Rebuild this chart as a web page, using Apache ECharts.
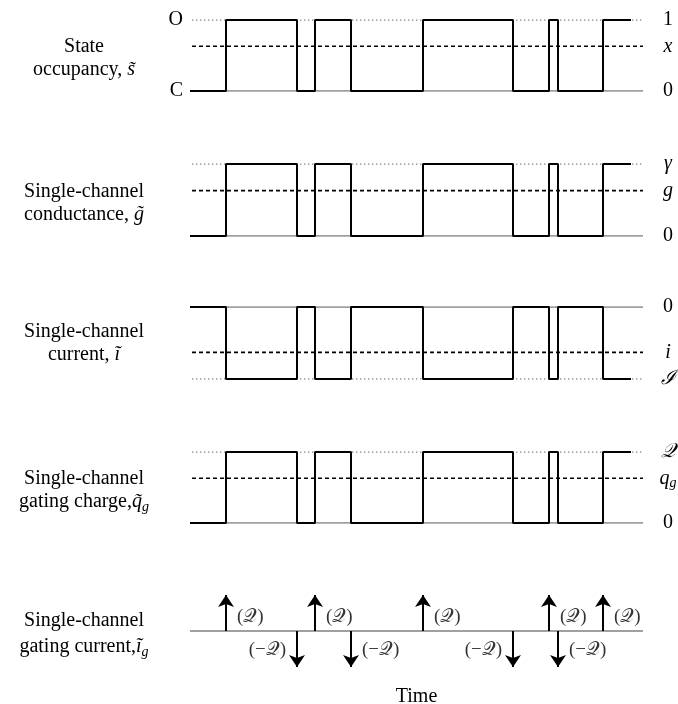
<!DOCTYPE html>
<html><head><meta charset="utf-8">
<script src="https://cdn.jsdelivr.net/npm/echarts@6/dist/echarts.min.js"></script>
<style>html,body{margin:0;padding:0;background:#fff}#c{width:678px;height:704px}</style>
</head><body><div id="c"></div>
<script>
// ---------------- data (time in arbitrary units) ----------------
const transitionTimes = [36, 107, 125, 161, 233, 323, 359, 368, 413];
const statesAfter     = [1, 0, 1, 0, 1, 0, 1, 0, 1];   // 1 = open (O), 0 = closed (C)
const initialState = 0;
const traceStartTime = 0;
const traceEndTime = 441;
const timeMax = 453;
const refStartTime = 2;
const meanLevel = 0.63;          // open probability x (fraction of unitary level)

const panelNames = [
  'State\noccupancy, {i|s̃}',
  'Single-channel\nconductance, {i|g̃}',
  'Single-channel\ncurrent, {i|ĩ}',
  'Single-channel\ngating charge,{i|q̃}{s|g}',
  'Single-channel\ngating current,{i|ĩ}{s|g}'
];
// per panel: sign of trace, tick labels [unitary level, mean level, zero level]
const panelSigns = [1, 1, -1, 1];
const unitaryLabels = ['1', '{i|γ}', '{i|ℐ}', '{i|𝒬}'];
const meanLabels = ['{i|x}', '{i|g}', '{i|i}', '{i|q}{s|g}'];
const zeroLabel = '0';
const stateLetters = ['C', 'O'];
const upChargeLabel = '(𝒬)';
const downChargeLabel = '(−𝒬)';
const xAxisName = 'Time';

// ---------------- chart ----------------
const FONT = 'Liberation Serif';
const FS = 20;
const rich = {
  i: {fontFamily: FONT, fontStyle: 'italic', fontSize: FS, color: '#000'},
  s: {fontFamily: FONT, fontStyle: 'italic', fontSize: 14, color: '#000', padding: [10, 0, 0, 0]}
};
const gridBoxes = [
  {top: 20, height: 71}, {top: 164, height: 72}, {top: 307, height: 72},
  {top: 452, height: 71}, {top: 595, height: 72}
];
const grid = gridBoxes.map(b => ({left: 190, width: 453, top: b.top, height: b.height,
  containLabel: false, outerBoundsMode: 'none'}));

const stepData = [[traceStartTime, initialState]];
transitionTimes.forEach((t, j) => stepData.push([t, statesAfter[j]]));
stepData.push([traceEndTime, statesAfter[statesAfter.length - 1]]);

const xAxis = grid.map((g, k) => ({
  gridIndex: k, type: 'value', min: 0, max: timeMax,
  show: k === 4,
  axisLine: {show: false}, axisTick: {show: false}, axisLabel: {show: false}, splitLine: {show: false},
  name: k === 4 ? xAxisName : '', nameLocation: 'middle', nameGap: 20,
  nameTextStyle: {fontFamily: FONT, fontSize: FS, color: '#000'}
}));

const yAxis = [];
const series = [];
const namePads = [[6, 0, 0, 0], [6, 0, 0, 0], [0, 0, 0, 0], [6, 0, 0, 0], [6, 0, 0, 0]];
const nameStyle = k => ({fontFamily: FONT, fontSize: FS, color: '#000', lineHeight: k === 4 ? 26 : 23,
  align: 'center', verticalAlign: 'middle', padding: namePads[k], rich});

for (let k = 0; k < 4; k++) {
  const sg = panelSigns[k];
  const mn = sg > 0 ? 0 : -1, mx = sg > 0 ? 1 : 0;
  yAxis.push({
    gridIndex: k, type: 'value', min: mn, max: mx, position: 'left',
    axisLine: {show: false}, axisTick: {show: false}, splitLine: {show: false},
    axisLabel: k === 0 ? {show: true, customValues: [0, 1], formatter: v => stateLetters[Math.round(v)],
      fontFamily: FONT, fontSize: FS, color: '#000', margin: 7} : {show: false},
    name: panelNames[k], nameLocation: 'middle', nameRotate: 0, nameGap: 106, nameTextStyle: nameStyle(k)
  });
  const levels = [0, sg * meanLevel, sg];
  const labs = [zeroLabel, meanLabels[k], unitaryLabels[k]];
  yAxis.push({
    gridIndex: k, type: 'value', min: mn, max: mx, position: 'right',
    axisLine: {show: false}, axisTick: {show: false}, splitLine: {show: false},
    axisLabel: {show: true, customValues: levels,
      formatter: v => labs[levels.findIndex(l => Math.abs(l - v) < 1e-6)],
      fontFamily: FONT, fontSize: FS, color: '#000', margin: 25, align: 'center', rich}
  });
  const yi = 2 * k;
  const common = {type: 'line', xAxisIndex: k, yAxisIndex: yi, showSymbol: false, silent: true, animation: false};
  series.push(Object.assign({}, common, {z: 1, data: [[0, 0], [timeMax, 0]],
    lineStyle: {color: '#808080', width: 1.6}}));
  series.push(Object.assign({}, common, {z: 1, data: [[refStartTime, sg], [timeMax, sg]],
    lineStyle: {color: '#8c8c8c', width: 1.4, type: [1.4, 2.6]}}));
  series.push(Object.assign({}, common, {z: 2, data: [[refStartTime, sg * meanLevel], [timeMax, sg * meanLevel]],
    lineStyle: {color: '#000', width: 1.6, type: [4, 3]}}));
  series.push(Object.assign({}, common, {z: 3, step: 'end', data: stepData.map(p => [p[0], p[1] * sg]),
    lineStyle: {color: '#000', width: 2}}));
}

// panel 5: gating current impulses
yAxis.push({
  gridIndex: 4, type: 'value', min: -1, max: 1, position: 'left',
  axisLine: {show: false}, axisTick: {show: false}, splitLine: {show: false}, axisLabel: {show: false},
  name: panelNames[4], nameLocation: 'middle', nameRotate: 0, nameGap: 106,
  nameTextStyle: nameStyle(4)
});
const downSides = ['left', 'right', 'left', 'right'];
let downCount = 0;
const labelData = transitionTimes.map((t, j) => {
  const up = statesAfter[j] === 1;
  const side = up ? 'right' : downSides[downCount++];
  return {value: [t, up ? 0.38 : -0.54], name: up ? upChargeLabel : downChargeLabel,
    label: {position: side}};
});
series.push({
  type: 'line', xAxisIndex: 4, yAxisIndex: 8, showSymbol: false, silent: true, animation: false, z: 1,
  data: [[0, 0], [timeMax, 0]], lineStyle: {color: '#808080', width: 1.6},
  markLine: {
    silent: true, animation: false, symbol: ['none', 'arrow'], symbolSize: 12,
    lineStyle: {color: '#000', width: 2, type: 'solid'}, label: {show: false},
    emphasis: {disabled: true},
    data: transitionTimes.map((t, j) => [{coord: [t, 0]}, {coord: [t, statesAfter[j] === 1 ? 1 : -1]}])
  }
});
series.push({
  type: 'scatter', xAxisIndex: 4, yAxisIndex: 8, symbolSize: 0, silent: true, animation: false, z: 4,
  data: labelData,
  label: {show: true, formatter: p => p.name, distance: 11, fontFamily: FONT, fontSize: 19, color: '#000'}
});

const chart = echarts.init(document.getElementById('c'));
chart.setOption({animation: false, grid, xAxis, yAxis, series});
</script>
</body></html>
